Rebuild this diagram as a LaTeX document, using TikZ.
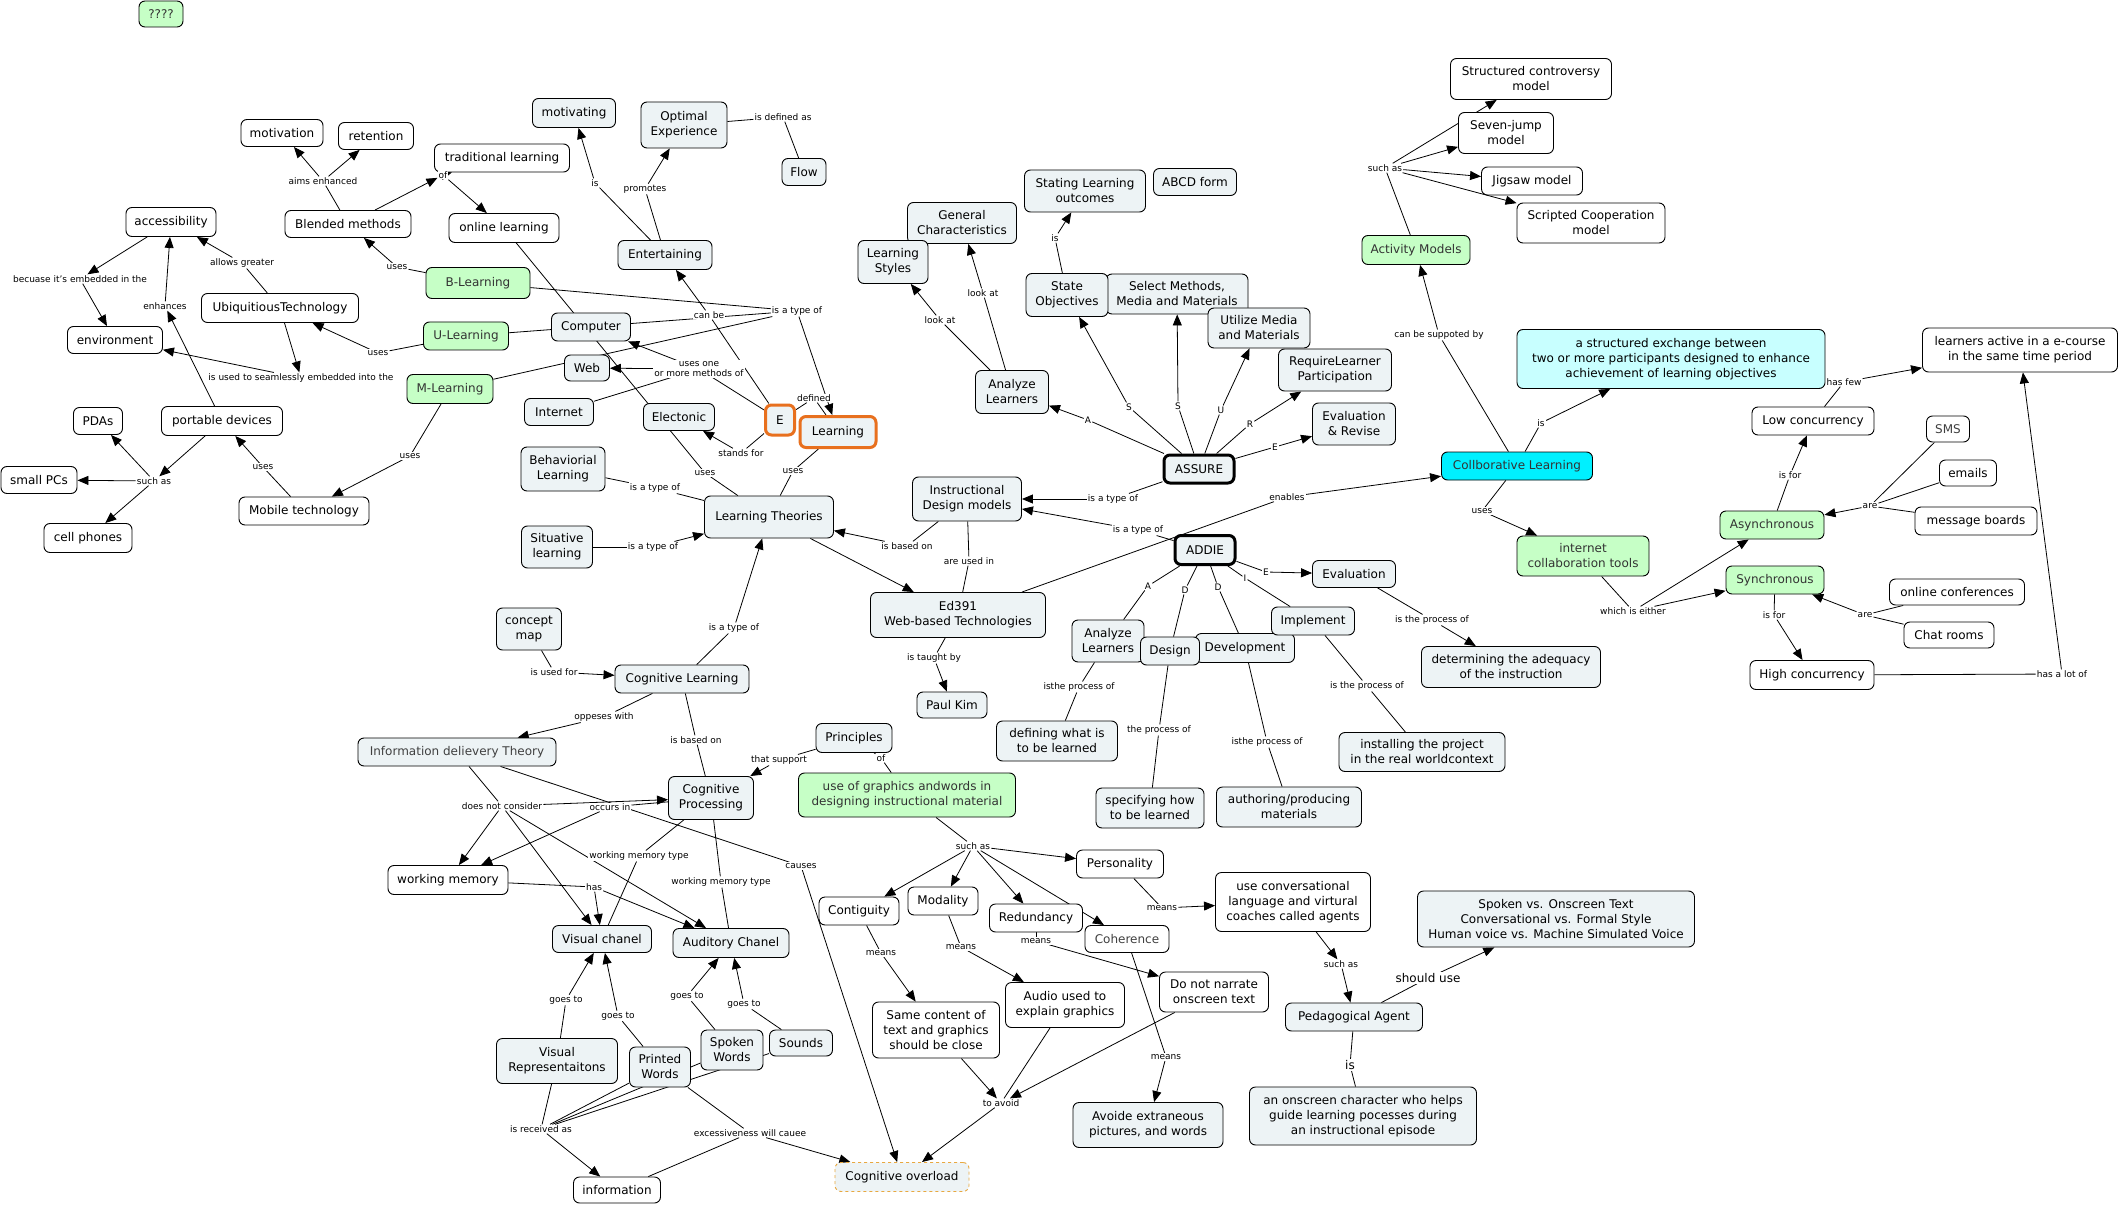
\documentclass[tikz,border=0pt]{standalone}
\usepackage{fontspec}
\setmainfont{DejaVu Sans}
\usetikzlibrary{arrows.meta}
\pgfdeclarelayer{bg}
\pgfsetlayers{bg,main}
\newcommand\myc{\fontsize{12}{15}\selectfont}
\newcommand\myl{\fontsize{9}{10}\selectfont}
\definecolor{lightc}{HTML}{EDF3F5}
\definecolor{greenc}{HTML}{C6FFC6}
\definecolor{cyanc}{HTML}{00F0FF}
\definecolor{lcyan}{HTML}{C8FFFF}
\definecolor{orangec}{HTML}{E8701E}
\definecolor{dashc}{HTML}{E8A840}
\tikzset{
 cbase/.style={draw=black, line width=0.9pt, rounded corners=6pt, align=center, font=\myc, inner sep=2pt},
 cw/.style 2 args={cbase, fill=white, minimum width=#1pt, minimum height=#2pt},
 cl/.style 2 args={cbase, fill=lightc, minimum width=#1pt, minimum height=#2pt},
 cg/.style 2 args={cbase, fill=greenc, text=black!80, minimum width=#1pt, minimum height=#2pt},
 cc/.style 2 args={cbase, fill=cyanc, text=black!80, minimum width=#1pt, minimum height=#2pt},
 clc/.style 2 args={cbase, fill=lcyan, minimum width=#1pt, minimum height=#2pt},
 co/.style 2 args={cbase, fill=lightc, draw=orangec, line width=3pt, minimum width=#1pt, minimum height=#2pt},
 ct/.style 2 args={cbase, fill=lightc, line width=3pt, minimum width=#1pt, minimum height=#2pt},
 cd/.style 2 args={cbase, fill=lightc, draw=dashc, dashed, minimum width=#1pt, minimum height=#2pt},
 lab/.style={font=\myl, fill=white, inner sep=1pt, align=center},
 labbig/.style={font=\myc, fill=white, inner sep=1pt},
 ln/.style={line width=0.8pt},
 ar/.style={line width=0.8pt, -{Triangle[length=11pt,width=9pt]}},
}
\begin{document}
\begin{tikzpicture}[x=1pt,y=-1pt]
\useasboundingbox (0,0) rectangle (2121,1206);
% ---------- concepts ----------
\node[cg={44}{26}] (q) at (161,14) {????};
\node[cw={82}{27}] (motivation) at (282,133) {motivation};
\node[cw={75}{27}] (retention) at (376,136) {retention};
\node[cw={135}{28}] (tradl) at (502,158) {traditional learning};
\node[cw={90}{29}] (access) at (171,222) {accessibility};
\node[cw={126}{27}] (blended) at (348,224) {Blended methods};
\node[cw={110}{29}] (online) at (504,228) {online learning};
\node[cw={95}{27}] (envir) at (115,340) {environment};
\node[cw={157}{29}] (ubiq) at (280,308) {UbiquitiousTechnology};
\node[cg={104}{31}] (blearn) at (478,283) {B-Learning};
\node[cg={85}{28}] (ulearn) at (466,336) {U-Learning};
\node[cg={86}{29}] (mlearn) at (450,389) {M-Learning};
\node[cw={121}{29}] (portable) at (222,421) {portable devices};
\node[cw={49}{27}] (pdas) at (98,421) {PDAs};
\node[cw={76}{27}] (smallpc) at (39,480) {small PCs};
\node[cw={88}{29}] (cell) at (88,538) {cell phones};
\node[cw={130}{28}] (mobile) at (304,511) {Mobile technology};
\node[cl={65}{42}] (cmap) at (529,629) {concept\\map};
\node[cl={198}{28}, text=black!75] (idt) at (457,752) {Information delievery Theory};
\node[cl={83}{29}] (motivating) at (574,113) {motivating};
\node[cl={86}{46}] (optexp) at (684,125) {Optimal\\Experience};
\node[cl={44}{27}] (flow) at (804,172) {Flow};
\node[cl={94}{29}] (entert) at (665,255) {Entertaining};
\node[cl={109}{41}] (genchar) at (962,223) {General\\Characteristics};
\node[cl={70}{43}] (lstyles) at (893,262) {Learning\\Styles};
\node[cl={79}{28}] (computer) at (591,327) {Computer};
\node[cl={45}{26}] (web) at (587,368) {Web};
\node[cl={69}{27}] (internet) at (559,412) {Internet};
\node[cl={71}{27}] (electonic) at (679,417) {Electonic};
\node[co={29}{30}] (E) at (780,420) {E};
\node[co={76}{31}] (learning) at (838,432) {Learning};
\node[cl={73}{43}] (analyzeA) at (1012,392) {Analyze\\Learners};
\node[cl={84}{44}] (behav) at (563,469) {Behaviorial\\Learning};
\node[cl={129}{42}] (lt) at (769,517) {Learning Theories};
\node[cl={71}{42}] (situ) at (557,547) {Situative\\learning};
\node[cl={109}{44}] (idm) at (967,499) {Instructional\\Design models};
\node[cl={175}{45}] (ed391) at (958,615) {Ed391\\Web-based Technologies};
\node[cl={70}{26}] (paulkim) at (952,705) {Paul Kim};
\node[cl={134}{28}] (coglearn) at (682,679) {Cognitive Learning};
\node[cl={76}{29}] (principles) at (854,738) {Principles};
\node[cl={121}{42}] (stating) at (1085,191) {Stating Learning\\outcomes};
\node[cl={83}{27}] (abcd) at (1195,182) {ABCD form};
\node[cl={142}{40}] (select) at (1177,294) {Select Methods,\\Media and Materials};
\node[cl={82}{43}] (stateobj) at (1067,295) {State\\Objectives};
\node[cl={102}{40}] (utilize) at (1259,328) {Utilize Media\\and Materials};
\node[cl={113}{42}] (require) at (1335,370) {RequireLearner\\Participation};
\node[cl={83}{42}] (evalrev) at (1354,424) {Evaluation\\\& Revise};
\node[cw={161}{41}] (structured) at (1531,79) {Structured controversy\\model};
\node[cw={95}{41}] (sevenjump) at (1506,133) {Seven-jump\\model};
\node[cw={101}{28}] (jigsaw) at (1532,181) {Jigsaw model};
\node[cw={148}{40}] (scripted) at (1591,223) {Scripted Cooperation\\model};
\node[cg={108}{29}] (activity) at (1416,250) {Activity Models};
\node[clc={308}{59}] (structex) at (1671,359) {a structured exchange between\\two or more participants designed to enhance\\achievement of learning objectives};
\node[cc={151}{28}] (collab) at (1517,466) {Collborative Learning};
\node[ct={70}{28}] (assure) at (1199,469) {ASSURE};
\node[ct={60}{29}] (addie) at (1205,550) {ADDIE};
\node[cl={83}{27}] (evaluation) at (1354,574) {Evaluation};
\node[cl={72}{42}] (analyzeB) at (1108,641) {Analyze\\Learners};
\node[cl={99}{29}] (development) at (1245,648) {Development};
\node[cl={59}{28}] (design) at (1170,651) {Design};
\node[cl={83}{28}] (implement) at (1313,621) {Implement};
\node[cl={121}{40}] (defining) at (1057,741) {defining what is\\to be learned};
\node[cl={108}{40}] (specifying) at (1150,808) {specifying how\\to be learned};
\node[cl={145}{40}] (authoring) at (1289,807) {authoring/producing\\materials};
\node[cl={166}{39}] (installing) at (1422,752) {installing the project\\in the real worldcontext};
\node[cl={179}{41}] (determining) at (1511,667) {determining the adequacy\\of the instruction};
\node[cg={132}{40}] (ict) at (1583,556) {internet\\collaboration tools};
\node[cw={195}{44}] (lactive) at (2020,350) {learners active in a e-course\\in the same time period};
\node[cw={122}{28}] (lowc) at (1813,421) {Low concurrency};
\node[cw={43}{26}, text=black!75] (sms) at (1948,429) {SMS};
\node[cw={57}{26}] (emails) at (1968,473) {emails};
\node[cw={122}{28}] (msgb) at (1976,521) {message boards};
\node[cg={104}{28}] (async) at (1772,525) {Asynchronous};
\node[cg={98}{28}] (sync) at (1775,580) {Synchronous};
\node[cw={135}{26}] (onconf) at (1957,592) {online conferences};
\node[cw={90}{26}] (chat) at (1949,635) {Chat rooms};
\node[cw={124}{29}] (highc) at (1812,675) {High concurrency};
\node[cl={85}{43}] (cogproc) at (711,798) {Cognitive\\Processing};
\node[cw={120}{29}] (wm) at (448,880) {working memory};
\node[cl={99}{27}] (visual) at (602,939) {Visual chanel};
\node[cl={116}{29}] (auditory) at (731,943) {Auditory Chanel};
\node[cl={121}{45}] (visrep) at (557,1061) {Visual\\Representaitons};
\node[cl={61}{40}] (printed) at (660,1067) {Printed\\Words};
\node[cl={62}{40}] (spoken) at (732,1050) {Spoken\\Words};
\node[cl={63}{26}] (sounds) at (801,1043) {Sounds};
\node[cw={87}{26}] (info) at (617,1190) {information};
\node[cd={134}{29}] (overload) at (902,1177) {Cognitive overload};
\node[cg={217}{44}] (uog) at (907,795) {use of graphics andwords in\\designing instructional material};
\node[cw={87}{28}] (personality) at (1120,864) {Personality};
\node[cw={80}{28}] (contiguity) at (859,911) {Contiguity};
\node[cw={70}{28}] (modality) at (943,901) {Modality};
\node[cw={93}{28}] (redundancy) at (1036,918) {Redundancy};
\node[cw={84}{27}, text=black!75] (coherence) at (1127,939) {Coherence};
\node[cw={109}{40}] (donot) at (1214,992) {Do not narrate\\onscreen text};
\node[cw={119}{45}] (audio) at (1065,1005) {Audio used to\\explain graphics};
\node[cw={127}{56}] (same) at (936,1030) {Same content of\\text and graphics\\should be close};
\node[cl={150}{45}] (avoide) at (1148,1125) {Avoide extraneous\\pictures, and words};
\node[cw={155}{59}] (useconv) at (1293,902) {use conversational\\language and virtural\\coaches called agents};
\node[cl={277}{56}] (spokenvs) at (1556,919) {Spoken vs. Onscreen Text\\Conversational vs. Formal Style\\Human voice vs. Machine Simulated Voice};
\node[cl={137}{28}] (pedag) at (1354,1017) {Pedagogical Agent};
\node[cl={227}{58}] (onscreen) at (1363,1116) {an onscreen character who helps\\guide learning pocesses during\\an instructional episode};
% ---------- linking phrases ----------
\node[lab] (laims) at (323,181) {aims enhanced};
\node[lab] (lofA) at (443,175) {of};
\node[lab] (lbecause) at (80,279) {becuase it's embedded in the};
\node[lab] (lenh) at (165,306) {enhances};
\node[lab] (lallows) at (242,263) {allows greater};
\node[lab] (lusesB) at (397,267) {uses};
\node[lab] (lusesU) at (378,353) {uses};
\node[lab] (lseam) at (301,378) {is used to seamlessly embedded into the};
\node[lab] (lusesM) at (410,456) {uses};
\node[lab] (lusesMob) at (263,467) {uses};
\node[lab] (lsuchA) at (154,481) {such as};
\node[lab] (lisA) at (595,183) {is};
\node[lab] (lpromotes) at (645,189) {promotes};
\node[lab] (ldefas) at (783,117) {is defined as};
\node[lab] (lcanbe) at (709,315) {can be};
\node[lab] (ltypeA) at (797,311) {is a type of};
\node[lab] (lusesone) at (699,369) {uses one\\or more methods of};
\node[lab] (ldefined) at (814,398) {defined};
\node[lab] (lstands) at (741,453) {stands for};
\node[lab] (llookA) at (940,320) {look at};
\node[lab] (llookB) at (983,293) {look at};
\node[lab] (lisB) at (1055,238) {is};
\node[lab] (lusesOL) at (705,473) {uses};
\node[lab] (lusesL) at (793,471) {uses};
\node[lab] (ltypeB) at (655,488) {is a type of};
\node[lab] (ltypeS) at (653,547) {is a type of};
\node[lab] (lbasedA) at (907,546) {is based on};
\node[lab] (lusedin) at (969,561) {are used in};
\node[lab] (ltypeC) at (734,628) {is a type of};
\node[lab] (ltaught) at (934,658) {is taught by};
\node[lab] (lusedfor) at (554,672) {is used for};
\node[lab] (loppeses) at (604,717) {oppeses with};
\node[lab] (lbasedB) at (696,740) {is based on};
\node[lab] (lsupport) at (779,760) {that support};
\node[lab] (lofB) at (881,758) {of};
\node[lab] (lsuchB) at (1385,168) {such as};
\node[lab] (lsupp) at (1439,335) {can be suppoted by};
\node[lab] (lisC) at (1541,423) {is};
\node[lab] (lAa) at (1088,420) {A};
\node[lab] (lSa) at (1129,407) {S};
\node[lab] (lSb) at (1178,406) {S};
\node[lab] (lUa) at (1221,410) {U};
\node[lab] (lRa) at (1250,424) {R};
\node[lab] (lEa) at (1275,447) {E};
\node[lab] (ltypeAS) at (1113,499) {is a type of};
\node[lab] (ltypeAD) at (1138,530) {is a type of};
\node[lab] (lenables) at (1287,497) {enables};
\node[lab] (lAb) at (1148,586) {A};
\node[lab] (lDa) at (1185,590) {D};
\node[lab] (lDb) at (1218,587) {D};
\node[lab] (lIb) at (1245,578) {I};
\node[lab] (lEb) at (1266,572) {E};
\node[lab] (lprocA) at (1079,687) {isthe process of};
\node[lab] (lprocB) at (1159,730) {the process of};
\node[lab] (lprocC) at (1267,742) {isthe process of};
\node[lab] (lprocD) at (1367,686) {is the process of};
\node[lab] (lprocE) at (1432,620) {is the process of};
\node[lab] (lusesC) at (1482,511) {uses};
\node[lab] (lhasfew) at (1844,382) {has few};
\node[lab] (lisforA) at (1790,475) {is for};
\node[lab] (lareA) at (1870,506) {are};
\node[lab] (leither) at (1633,611) {which is either};
\node[lab] (lisforB) at (1774,615) {is for};
\node[lab] (lareB) at (1865,615) {are};
\node[lab] (llotof) at (2062,674) {has a lot of};
\node[lab] (lnotcons) at (502,806) {does not consider};
\node[lab] (loccurs) at (610,807) {occurs in};
\node[lab] (lwmtA) at (639,856) {working memory type};
\node[lab] (lcauses) at (801,866) {causes};
\node[lab] (lhas) at (594,887) {has};
\node[lab] (lwmtB) at (721,882) {working memory type};
\node[lab] (lgoesA) at (566,1000) {goes to};
\node[lab] (lgoesB) at (618,1016) {goes to};
\node[lab] (lgoesC) at (687,996) {goes to};
\node[lab] (lgoesD) at (744,1004) {goes to};
\node[lab] (lrecv) at (541,1129) {is received as};
\node[lab] (lexcess) at (750,1133) {excessiveness will cauee};
\node[lab] (lsuchC) at (973,846) {such as};
\node[lab] (lmeansA) at (881,953) {means};
\node[lab] (lmeansB) at (961,947) {means};
\node[lab] (lmeansC) at (1036,941) {means};
\node[lab] (lmeansD) at (1162,908) {means};
\node[lab] (lmeansE) at (1166,1057) {means};
\node[lab] (lavoid) at (1001,1103) {to avoid};
\node[lab] (lsuchD) at (1341,964) {such as};
\node[labbig] (lshould) at (1428,978) {should use};
\node[labbig] (lisD) at (1350,1065) {is};
% ---------- connectors ----------
\begin{pgfonlayer}{bg}
\fill[white] (0,0) rectangle (2121,1206);
\draw[ln] (blended) -- (laims);
\draw[ar] (laims) -- (motivation);
\draw[ar] (laims) -- (retention);
\draw[ar] (blended) -- (lofA);
\draw[ar] (lofA) -- (tradl);
\draw[ar] (lofA) -- (online);
\draw[ar] (access) -- (lbecause);
\draw[ar] (lbecause) -- (envir);
\draw[ar] (portable) -- (lenh);
\draw[ar] (lenh) -- (access);
\draw[ln] (ubiq) -- (lallows);
\draw[ar] (lallows) -- (access);
\draw[ar] (ubiq) -- (lseam);
\draw[ar] (lseam) -- (envir);
\draw[ln] (blearn) -- (lusesB);
\draw[ar] (lusesB) -- (blended);
\draw[ln] (ulearn) -- (lusesU);
\draw[ar] (lusesU) -- (ubiq);
\draw[ln] (mlearn) -- (lusesM);
\draw[ar] (lusesM) -- (mobile);
\draw[ln] (mobile) -- (lusesMob);
\draw[ar] (lusesMob) -- (portable);
\draw[ar] (portable) -- (lsuchA);
\foreach \t in {pdas,smallpc,cell} \draw[ar] (lsuchA) -- (\t);
\foreach \s in {blearn,ulearn,mlearn} \draw[ln] (\s) -- (ltypeA);
\draw[ar] (ltypeA) -- (learning);
\draw[ln] (entert) -- (lisA);
\draw[ar] (lisA) -- (motivating);
\draw[ln] (entert) -- (lpromotes);
\draw[ar] (lpromotes) -- (optexp);
\draw[ln] (optexp) -- (ldefas) -- (flow);
\draw[ln] (E) -- (lcanbe);
\draw[ar] (lcanbe) -- (entert);
\draw[ln] (E) -- (lusesone);
\draw[ar] (lusesone) -- (computer);
\draw[ar] (lusesone) -- (web);
\draw[ln] (lusesone) -- (internet);
\draw[ln] (E) -- (ldefined) -- (learning);
\draw[ln] (E) -- (lstands);
\draw[ar] (lstands) -- (electonic);
\draw[ln] (online) -- (lusesOL) -- (lt);
\draw[ln] (learning) -- (lusesL) -- (lt);
\draw[ln] (behav) -- (ltypeB) -- (lt);
\draw[ln] (situ) -- (ltypeS);
\draw[ar] (ltypeS) -- (lt);
\draw[ln] (idm) -- (lbasedA);
\draw[ar] (lbasedA) -- (lt);
\draw[ln] (idm) -- (lusedin) -- (ed391);
\draw[ar] (lt) -- (ed391);
\draw[ln] (coglearn) -- (ltypeC);
\draw[ar] (ltypeC) -- (lt);
\draw[ln] (ed391) -- (ltaught);
\draw[ar] (ltaught) -- (paulkim);
\draw[ln] (cmap) -- (lusedfor);
\draw[ar] (lusedfor) -- (coglearn);
\draw[ln] (coglearn) -- (loppeses);
\draw[ar] (loppeses) -- (idt);
\draw[ln] (coglearn) -- (lbasedB) -- (cogproc);
\draw[ln] (principles) -- (lsupport);
\draw[ar] (lsupport) -- (cogproc);
\draw[ln] (principles) -- (lofB) -- (uog);
\draw[ln] (ed391) -- (lenables);
\draw[ar] (lenables) -- (collab);
\draw[ln] (analyzeA) -- (llookA);
\draw[ar] (llookA) -- (lstyles);
\draw[ln] (analyzeA) -- (llookB);
\draw[ar] (llookB) -- (genchar);
\draw[ln] (stateobj) -- (lisB);
\draw[ar] (lisB) -- (stating);
\draw[ln] (assure) -- (lAa); \draw[ar] (lAa) -- (analyzeA);
\draw[ln] (assure) -- (lSa); \draw[ar] (lSa) -- (stateobj);
\draw[ln] (assure) -- (lSb); \draw[ar] (lSb) -- (select);
\draw[ln] (assure) -- (lUa); \draw[ar] (lUa) -- (utilize);
\draw[ln] (assure) -- (lRa); \draw[ar] (lRa) -- (require);
\draw[ln] (assure) -- (lEa); \draw[ar] (lEa) -- (evalrev);
\draw[ln] (assure) -- (ltypeAS); \draw[ar] (ltypeAS) -- (idm);
\draw[ln] (addie) -- (ltypeAD); \draw[ar] (ltypeAD) -- (idm);
\draw[ln] (activity) -- (lsuchB);
\foreach \t in {structured,sevenjump,jigsaw,scripted} \draw[ar] (lsuchB) -- (\t);
\draw[ln] (collab) -- (lsupp); \draw[ar] (lsupp) -- (activity);
\draw[ln] (collab) -- (lisC); \draw[ar] (lisC) -- (structex);
\draw[ln] (collab) -- (lusesC); \draw[ar] (lusesC) -- (ict);
\draw[ln] (addie) -- (lAb) -- (analyzeB);
\draw[ln] (addie) -- (lDa) -- (design);
\draw[ln] (addie) -- (lDb) -- (development);
\draw[ln] (addie) -- (lIb) -- (implement);
\draw[ln] (addie) -- (lEb); \draw[ar] (lEb) -- (evaluation);
\draw[ln] (analyzeB) -- (lprocA) -- (defining);
\draw[ln] (design) -- (lprocB) -- (specifying);
\draw[ln] (development) -- (lprocC) -- (authoring);
\draw[ln] (implement) -- (lprocD) -- (installing);
\draw[ln] (evaluation) -- (lprocE); \draw[ar] (lprocE) -- (determining);
\draw[ln] (ict) -- (leither);
\draw[ar] (leither) -- (async);
\draw[ar] (leither) -- (sync);
\draw[ln] (async) -- (lisforA); \draw[ar] (lisforA) -- (lowc);
\draw[ln] (lowc) -- (lhasfew); \draw[ar] (lhasfew) -- (lactive);
\foreach \s in {sms,emails,msgb} \draw[ln] (\s) -- (lareA);
\draw[ar] (lareA) -- (async);
\foreach \s in {onconf,chat} \draw[ln] (\s) -- (lareB);
\draw[ar] (lareB) -- (sync);
\draw[ln] (sync) -- (lisforB); \draw[ar] (lisforB) -- (highc);
\draw[ln] (highc) -- (llotof); \draw[ar] (llotof) -- (lactive);
\draw[ln] (idt) -- (lnotcons);
\foreach \t in {wm,visual,auditory,cogproc} \draw[ar] (lnotcons) -- (\t);
\draw[ln] (idt) -- (lcauses); \draw[ar] (lcauses) -- (overload);
\draw[ln] (cogproc) -- (loccurs); \draw[ar] (loccurs) -- (wm);
\draw[ln] (cogproc) -- (lwmtA) -- (visual);
\draw[ln] (cogproc) -- (lwmtB) -- (auditory);
\draw[ln] (wm) -- (lhas);
\draw[ar] (lhas) -- (visual);
\draw[ar] (lhas) -- (auditory);
\draw[ln] (visrep) -- (lgoesA); \draw[ar] (lgoesA) -- (visual);
\draw[ln] (printed) -- (lgoesB); \draw[ar] (lgoesB) -- (visual);
\draw[ln] (spoken) -- (lgoesC); \draw[ar] (lgoesC) -- (auditory);
\draw[ln] (sounds) -- (lgoesD); \draw[ar] (lgoesD) -- (auditory);
\foreach \s in {visrep,printed,spoken,sounds} \draw[ln] (\s) -- (lrecv);
\draw[ar] (lrecv) -- (info);
\draw[ln] (info) -- (lexcess);
\draw[ln] (printed) -- (lexcess);
\draw[ar] (lexcess) -- (overload);
\draw[ln] (uog) -- (lsuchC);
\foreach \t in {contiguity,modality,redundancy,coherence,personality} \draw[ar] (lsuchC) -- (\t);
\draw[ln] (contiguity) -- (lmeansA); \draw[ar] (lmeansA) -- (same);
\draw[ln] (modality) -- (lmeansB); \draw[ar] (lmeansB) -- (audio);
\draw[ln] (redundancy) -- (lmeansC); \draw[ar] (lmeansC) -- (donot);
\draw[ln] (personality) -- (lmeansD); \draw[ar] (lmeansD) -- (useconv);
\draw[ln] (coherence) -- (lmeansE); \draw[ar] (lmeansE) -- (avoide);
\draw[ar] (same) -- (lavoid);
\draw[ln] (audio) -- (lavoid);
\draw[ar] (donot) -- (lavoid);
\draw[ar] (lavoid) -- (overload);
\draw[ar] (useconv) -- (lsuchD); \draw[ar] (lsuchD) -- (pedag);
\draw[ln] (pedag) -- (lshould); \draw[ar] (lshould) -- (spokenvs);
\draw[ln] (pedag) -- (lisD) -- (onscreen);
\end{pgfonlayer}
\end{tikzpicture}
\end{document}
